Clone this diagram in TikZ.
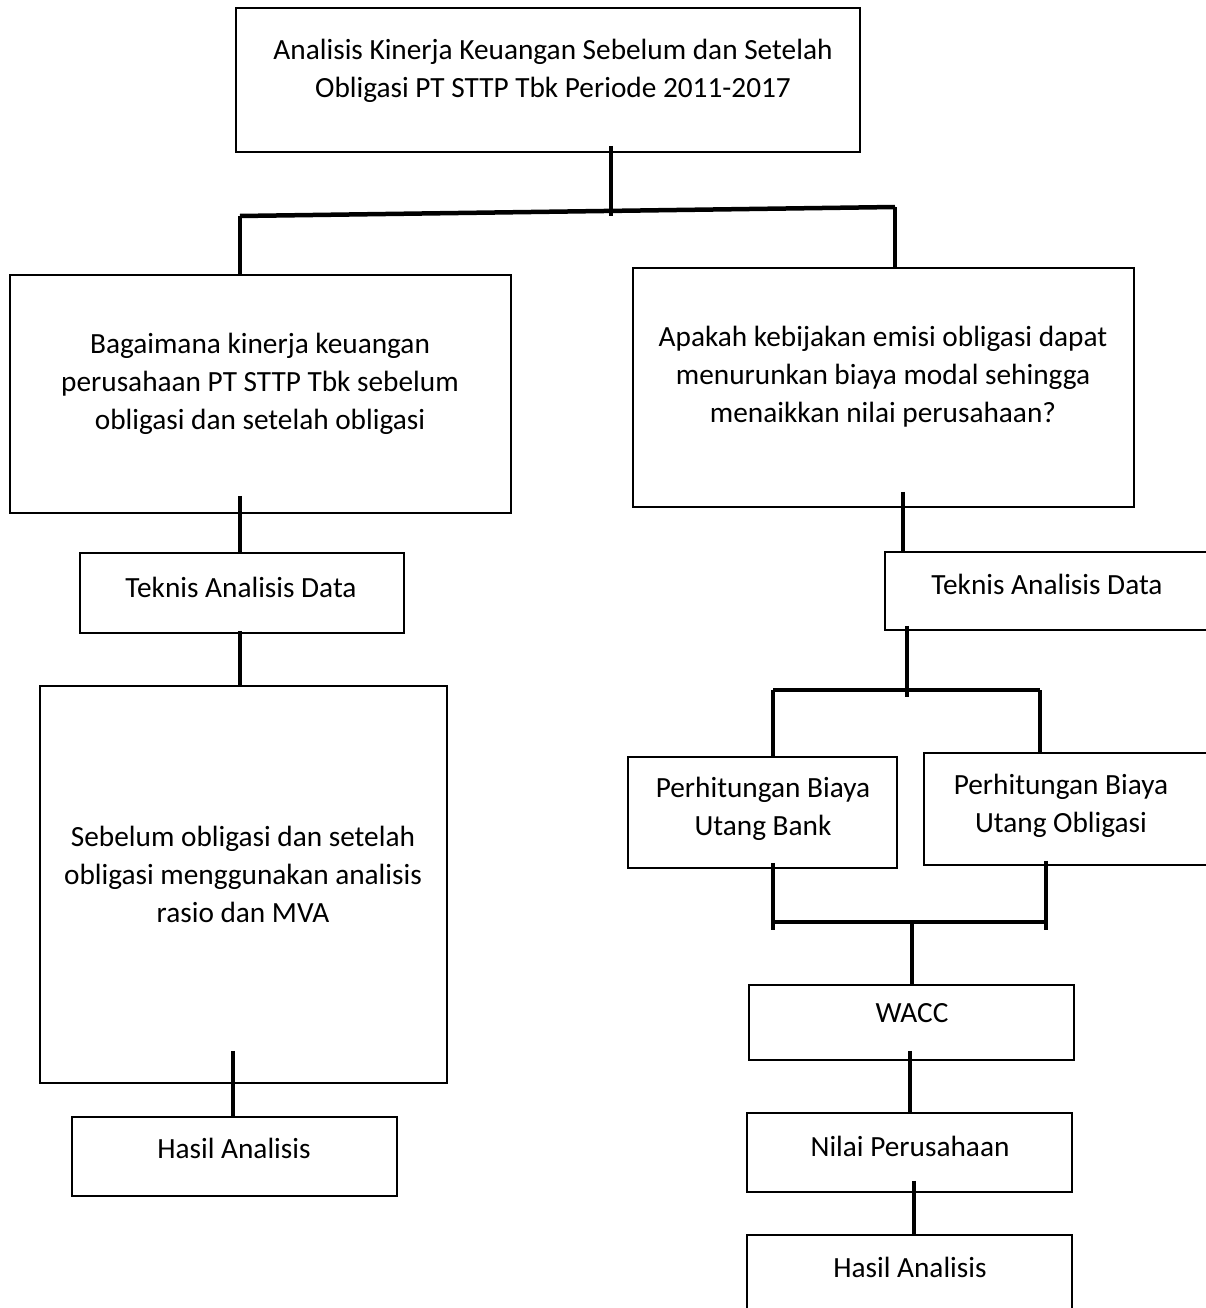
\documentclass[tikz,border=0pt]{standalone}
\usepackage{fontspec}
\setmainfont{Carlito}
\usetikzlibrary{calc}
\begin{document}
\begin{tikzpicture}[x=1pt,y=-1pt,
  box/.style={draw, line width=1.6pt, inner sep=0pt},
  conn/.style={line width=4.5pt},
  txt/.style={font=\fontsize{29.3}{38}\selectfont, align=center, inner sep=0pt}]
\useasboundingbox (0,0) rectangle (1206,1308);
% boxes
\node[box, minimum width=624pt, minimum height=144pt] (top) at (548,80) {};
\node[box, minimum width=501pt, minimum height=238pt] (l1) at (260.5,394) {};
\node[box, minimum width=501pt, minimum height=239pt] (r1) at (883.5,387.5) {};
\node[box, minimum width=324pt, minimum height=80pt] (lt) at (242,593) {};
\node[box, minimum width=407pt, minimum height=397pt] (lb) at (243.5,884.5) {};
\node[box, minimum width=325pt, minimum height=79pt] (lh) at (234.5,1156.5) {};
\node[box, minimum width=330pt, minimum height=78pt] (rt) at (1050,591) {};
\node[box, minimum width=269pt, minimum height=111pt] (rb) at (762.5,812.5) {};
\node[box, minimum width=284pt, minimum height=112pt] (ro) at (1066,809) {};
\node[box, minimum width=325pt, minimum height=75pt] (wacc) at (911.5,1022.5) {};
\node[box, minimum width=325pt, minimum height=79pt] (nilai) at (909.5,1152.5) {};
\node[box, minimum width=325pt, minimum height=80pt] (rh) at (909.5,1275) {};
% texts
\node[txt] (t0) at (553,71) {Analisis Kinerja Keuangan Sebelum dan Setelah\\Obligasi PT STTP Tbk Periode 2011-2017};
\node[txt] (t1) at (260,384) {Bagaimana kinerja keuangan\\perusahaan PT STTP Tbk sebelum\\obligasi dan setelah obligasi};
\node[txt] (t2) at (883,376.5) {Apakah kebijakan emisi obligasi dapat\\menurunkan biaya modal sehingga\\menaikkan nilai perusahaan?};
\node[txt] (t3) at (241,587) {Teknis Analisis Data};
\node[txt] (t4) at (243,874) {Sebelum obligasi dan setelah\\obligasi menggunakan analisis\\rasio dan MVA};
\node[txt] (t5) at (234,1148) {Hasil Analisis};
\node[txt] (t6) at (1047,584) {Teknis Analisis Data};
\node[txt] (t7) at (763,808.5) {Perhitungan Biaya\\Utang Bank};
\node[txt] (t8) at (1061,806) {Perhitungan Biaya\\Utang Obligasi};
\node[txt] (t9) at (912,1013) {WACC};
\node[txt] (t10) at (910,1146) {Nilai Perusahaan};
\node[txt] (t11) at (910,1267) {Hasil Analisis};
% junction coordinates
\coordinate (j0) at (611,216);
\coordinate (jl) at (240,216);
\coordinate (jr) at (895,207);
\coordinate (k0) at (907,690);
\coordinate (kl) at (773,690);
\coordinate (kr) at (1040,690);
\coordinate (m0) at (912,922);
\coordinate (ml) at (773,922);
\coordinate (mr) at (1046,922);
% connectors
\draw[conn] ($(top.south -| j0)+(0,-7)$) -- (j0);
\draw[conn] (jl) -- (jr);
\draw[conn] (jl) -- (l1.north -| jl);
\draw[conn] (jr) -- (r1.north -| jr);
\draw[conn] ($(l1.south -| lt.north)+(-2,-18)$) -- ($(lt.north)+(-2,0)$);
\draw[conn] ($(lt.south)+(-2,-3)$) -- ($(lb.north -| lt.south)+(-2,0)$);
\draw[conn] ($(lb.south -| lh.north)+(-1.5,-33)$) -- ($(lh.north)+(-1.5,0)$);
\draw[conn] ($(r1.south)+(19.5,-16)$) -- ($(rt.north -| r1.south)+(19.5,0)$);
\draw[conn] ($(rt.south -| k0)+(0,-5)$) -- ($(k0)+(0,7)$);
\draw[conn] (kl) -- (kr);
\draw[conn] (kl) -- (rb.north -| kl);
\draw[conn] (kr) -- (ro.north -| kr);
\draw[conn] ($(rb.south -| ml)+(0,-6)$) -- ($(ml)+(0,8)$);
\draw[conn] ($(ro.south -| mr)+(0,-5)$) -- ($(mr)+(0,8)$);
\draw[conn] (ml) -- (mr);
\draw[conn] ($(m0)+(0,-2)$) -- (wacc.north -| m0);
\draw[conn] ($(wacc.south)+(-1.5,-10)$) -- ($(nilai.north -| wacc.south)+(-1.5,0)$);
\draw[conn] ($(nilai.south)+(4.5,-12)$) -- ($(rh.north -| nilai.south)+(4.5,0)$);
\end{tikzpicture}
\end{document}
